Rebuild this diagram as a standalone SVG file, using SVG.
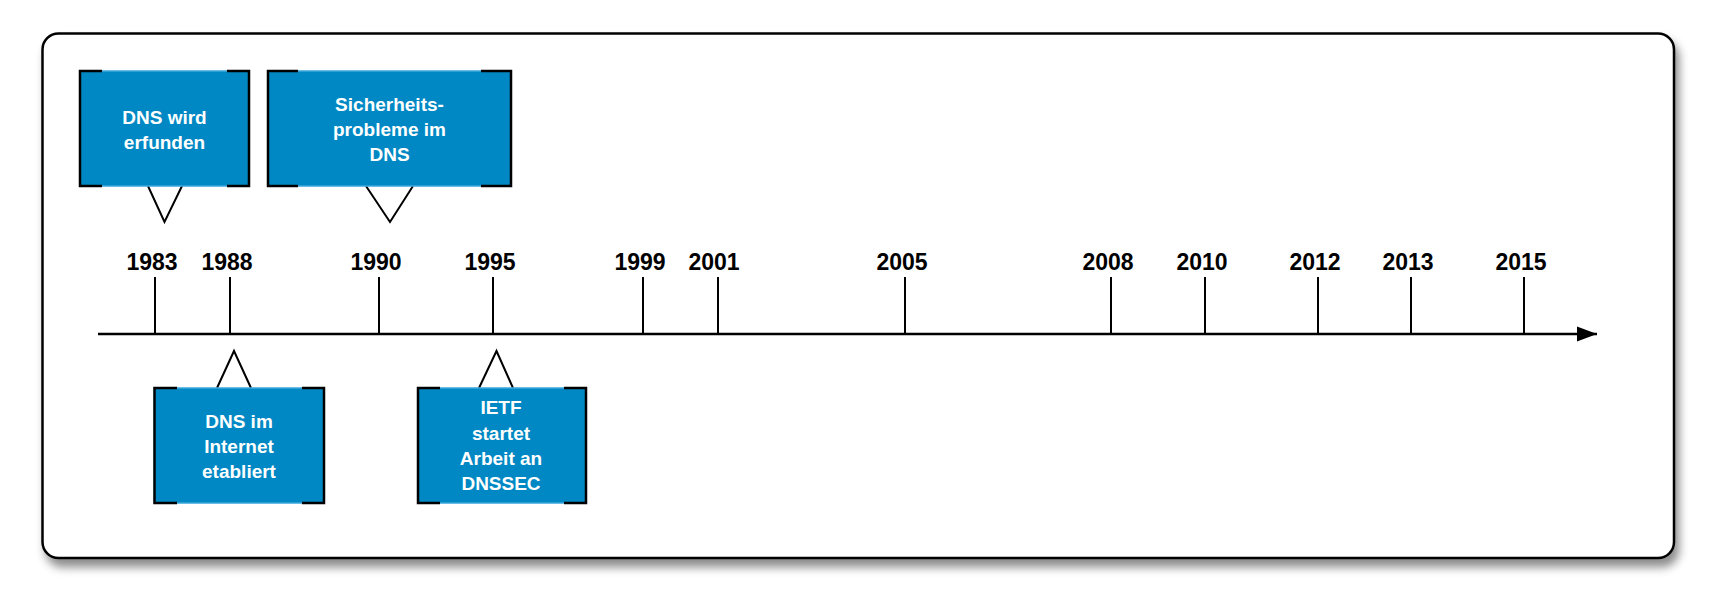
<svg xmlns="http://www.w3.org/2000/svg" width="1714" height="608" viewBox="0 0 1714 608">
<defs>
<filter id="sh" x="-5%" y="-10%" width="110%" height="125%">
<feDropShadow dx="4" dy="8" stdDeviation="5" flood-color="#000" flood-opacity="0.45"/>
</filter>
<marker id="arr" markerWidth="20" markerHeight="16" refX="20" refY="8" orient="auto" markerUnits="userSpaceOnUse">
<path d="M0,0.5 L20,8 L0,15.5 Z" fill="#000"/>
</marker>
</defs>
<style>
.box{fill:#0088c4;stroke:#3aa6dc;stroke-width:1.5}
.br{fill:none;stroke:#000;stroke-width:2.5}
.tail{fill:#fff;stroke:#000;stroke-width:2;stroke-linejoin:miter}
.bt{font-family:"Liberation Sans",Arial,sans-serif;font-weight:bold;font-size:19px;fill:#fff;text-anchor:middle}
.yr{font-family:"Liberation Sans",Arial,sans-serif;font-weight:bold;font-size:23px;fill:#000;text-anchor:middle}
.tick{stroke:#000;stroke-width:2}
</style>
<rect x="0" y="0" width="1714" height="608" fill="#fff"/>
<rect id="frame" x="42.5" y="33.5" width="1631.5" height="524.5" rx="16" ry="16" fill="#fff" stroke="#000" stroke-width="2.5" filter="url(#sh)"/>

<g id="connectors">
<line x1="98" y1="334" x2="1597" y2="334" stroke="#000" stroke-width="2.5" marker-end="url(#arr)"/>
<line class="tick" x1="155" y1="277" x2="155" y2="334"/>
<line class="tick" x1="230" y1="277" x2="230" y2="334"/>
<line class="tick" x1="379" y1="277" x2="379" y2="334"/>
<line class="tick" x1="493" y1="277" x2="493" y2="334"/>
<line class="tick" x1="643" y1="277" x2="643" y2="334"/>
<line class="tick" x1="718" y1="277" x2="718" y2="334"/>
<line class="tick" x1="905" y1="277" x2="905" y2="334"/>
<line class="tick" x1="1111" y1="277" x2="1111" y2="334"/>
<line class="tick" x1="1205" y1="277" x2="1205" y2="334"/>
<line class="tick" x1="1318" y1="277" x2="1318" y2="334"/>
<line class="tick" x1="1411" y1="277" x2="1411" y2="334"/>
<line class="tick" x1="1524" y1="277" x2="1524" y2="334"/>
<polyline class="tail" points="148,186 164.5,222 182,186"/>
<polyline class="tail" points="366,186 390,222 413,186"/>
<polyline class="tail" points="217,388 234,351 251,388"/>
<polyline class="tail" points="479,388 496.5,351 513,388"/>
</g>

<g id="years">
<text class="yr" x="152" y="270">1983</text>
<text class="yr" x="227" y="270">1988</text>
<text class="yr" x="376" y="270">1990</text>
<text class="yr" x="490" y="270">1995</text>
<text class="yr" x="640" y="270">1999</text>
<text class="yr" x="714" y="270">2001</text>
<text class="yr" x="902" y="270">2005</text>
<text class="yr" x="1108" y="270">2008</text>
<text class="yr" x="1202" y="270">2010</text>
<text class="yr" x="1315" y="270">2012</text>
<text class="yr" x="1408" y="270">2013</text>
<text class="yr" x="1521" y="270">2015</text>
</g>

<g id="n1983">
<rect class="box" x="80" y="71" width="169" height="115"/>
<path class="br" d="M102,71 H80 V186 H102 M227,71 H249 V186 H227"/>
<text class="bt" x="164.5" y="124">DNS wird</text>
<text class="bt" x="164.5" y="148.5">erfunden</text>
</g>

<g id="n1990">
<rect class="box" x="268" y="71" width="243" height="115"/>
<path class="br" d="M298,71 H268 V186 H298 M481,71 H511 V186 H481"/>
<text class="bt" x="389.5" y="111">Sicherheits-</text>
<text class="bt" x="389.5" y="136">probleme im</text>
<text class="bt" x="389.5" y="161">DNS</text>
</g>

<g id="n1988">
<rect class="box" x="154.5" y="388" width="169.5" height="115"/>
<path class="br" d="M177,388 H154.5 V503 H177 M302,388 H324 V503 H302"/>
<text class="bt" x="239" y="428">DNS im</text>
<text class="bt" x="239" y="453">Internet</text>
<text class="bt" x="239" y="478">etabliert</text>
</g>

<g id="n1995">
<rect class="box" x="418" y="388" width="168" height="115"/>
<path class="br" d="M440,388 H418 V503 H440 M564,388 H586 V503 H564"/>
<text class="bt" x="501" y="414">IETF</text>
<text class="bt" x="501" y="439.5">startet</text>
<text class="bt" x="501" y="464.5">Arbeit an</text>
<text class="bt" x="501" y="489.5">DNSSEC</text>
</g>
</svg>
